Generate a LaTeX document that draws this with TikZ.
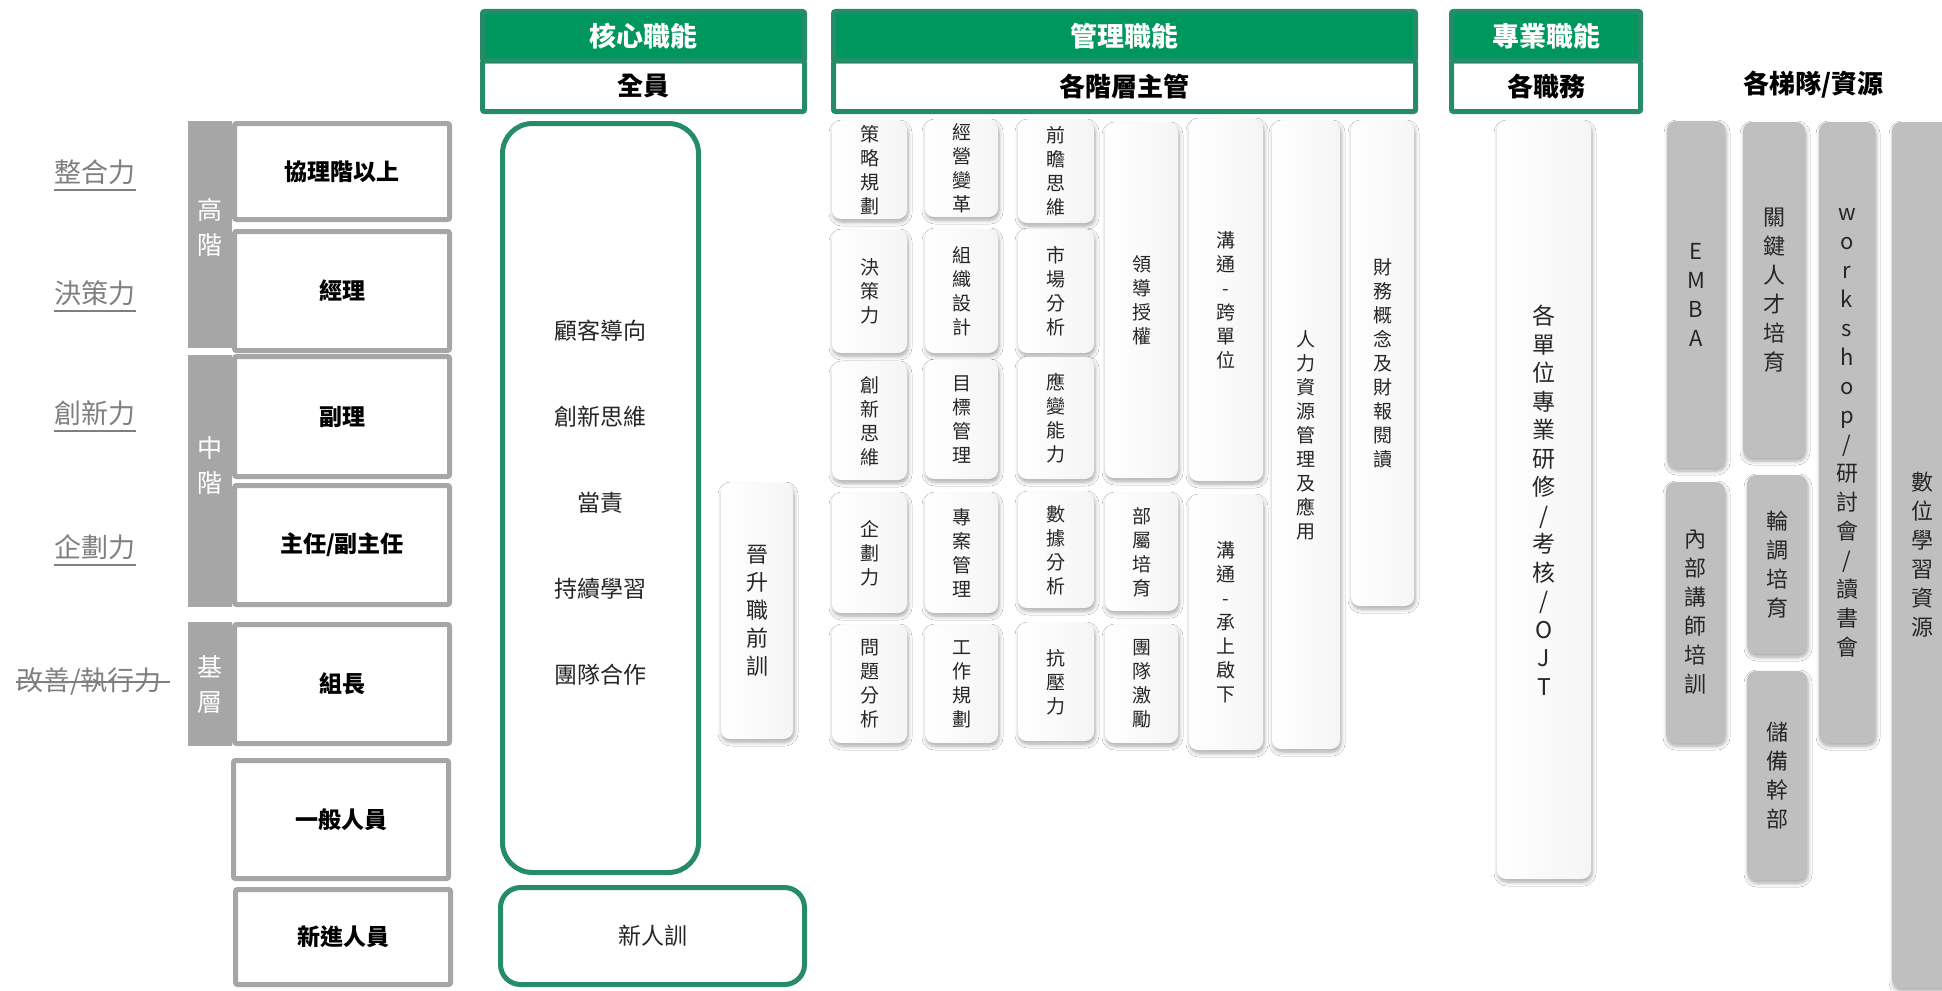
\documentclass[tikz,border=0pt]{standalone}
\usepackage{fontspec}
\setmainfont{Noto Sans CJK TC}
\usetikzlibrary{shadows.blur}
\definecolor{hdgreen}{HTML}{00975F}
\definecolor{hdline}{HTML}{268B69}
\definecolor{lvgray}{HTML}{A6A6A6}
\definecolor{rsgray}{HTML}{BFBFBF}
\definecolor{lbgray}{HTML}{7F7F7F}
\definecolor{txtdark}{HTML}{262626}

\begin{document}
\begin{tikzpicture}[x=1pt,y=-1pt,
    lbl/.style={text=lbgray, font=\fontsize{27}{30}\selectfont, inner sep=0pt},
    lbline/.style={draw=lbgray, line width=1.5pt},
    lvbar/.style={fill=lvgray, inner sep=0pt, minimum width=44pt},
    lvtxt/.style={text=white, align=center, font=\fontsize{25}{35}\selectfont},
    lvbox/.style={draw=lvgray, line width=5pt, fill=white, rounded corners=2pt, minimum width=215pt, font=\bfseries\fontsize{23}{26}\selectfont},
    hdtop/.style={draw=hdline, fill=hdgreen, line width=5pt, rounded corners=2pt, text=white, font=\bfseries\fontsize{27}{30}\selectfont, minimum height=49.5pt},
    hdsub/.style={draw=hdline, fill=white, line width=5pt, rounded corners=2pt, font=\bfseries\fontsize{26}{30}\selectfont, minimum height=50.5pt},
    corebox/.style={draw=hdline, line width=5pt, rounded corners=30pt, align=center, text=txtdark, font=\fontsize{23}{86}\selectfont},
    card/.style={rounded corners=9pt, left color=white, right color=black!4, blur shadow={shadow blur steps=6, shadow blur radius=4pt, shadow xshift=1pt, shadow yshift=-3pt, shadow opacity=35}, align=center, text=txtdark, font=\fontsize{19}{24}\selectfont, inner sep=0pt},
    rsbox/.style={rounded corners=9pt, fill=rsgray, blur shadow={shadow blur steps=6, shadow blur radius=4pt, shadow xshift=1pt, shadow yshift=-3pt, shadow opacity=35}, align=center, text=txtdark, font=\fontsize{22}{29}\selectfont, inner sep=0pt},
]
    \useasboundingbox (0,0) rectangle (1942,990);
    \fill[white] (0,0) rectangle (1942,990);

    \node[lbl] (zh) at (95,172) {整合力};
    \draw[lbline] ([yshift=-18pt]zh.west) -- ([yshift=-18pt]zh.east);
    \node[lbl] (jc) at (95,293) {決策力};
    \draw[lbline] ([yshift=-18pt]jc.west) -- ([yshift=-18pt]jc.east);
    \node[lbl] (cx) at (95,413) {創新力};
    \draw[lbline] ([yshift=-18pt]cx.west) -- ([yshift=-18pt]cx.east);
    \node[lbl] (qh) at (95,547) {企劃力};
    \draw[lbline] ([yshift=-18pt]qh.west) -- ([yshift=-18pt]qh.east);
    \node[lbl] (gs) at (89,682) {改善/執行力};
    \draw[lbline] (gs.west) -- ([xshift=8pt]gs.east);

    \node[lvbar, minimum height=227pt] (hi) at (210,234.5) {};
    \node[lvbar, minimum height=252pt] (mid) at (210,481) {};
    \node[lvbar, minimum height=124pt] (base) at (210,684) {};
    \node[lvtxt] (hit) at (210,227) {高\\階};
    \node[lvtxt] (midt) at (210,466) {中\\階};
    \node[lvtxt] (baset) at (210,684.5) {基\\層};

    \node[lvbox, minimum height=96pt] (lv1) at (342,171.5) {協理階以上};
    \node[lvbox, minimum height=119pt] (lv2) at (342,291) {經理};
    \node[lvbox, minimum height=120pt] (lv3) at (342,416.5) {副理};
    \node[lvbox, minimum height=119pt] (lv4) at (342,545) {主任/副主任};
    \node[lvbox, minimum height=119pt] (lv5) at (342,684) {組長};
    \node[lvbox, minimum height=118pt] (lv6) at (341,819.5) {一般人員};
    \node[lvbox, minimum height=95pt] (lv7) at (343,937) {新進人員};

    \node[hdsub, minimum width=322pt] (cores) at (643.5,86.25) {全員};
    \node[hdtop, minimum width=322pt] (coreh) at (643.5,36.25) {核心職能};
    \node[hdsub, minimum width=582pt] (mgrs) at (1124.5,86.25) {各階層主管};
    \node[hdtop, minimum width=582pt] (mgrh) at (1124.5,36.25) {管理職能};
    \node[hdsub, minimum width=189pt] (pros) at (1546,86.25) {各職務};
    \node[hdtop, minimum width=189pt] (proh) at (1546,36.25) {專業職能};
    \node[font=\bfseries\fontsize{26}{30}\selectfont] (rsh) at (1813,85) {各梯隊/資源};

    \node[corebox, minimum width=196pt, minimum height=749pt] (core) at (600.5,498) {};
    \node[align=center, text=txtdark, font=\fontsize{23}{86}\selectfont] (corelist) at (600,503) {顧客導向\\創新思維\\當責\\持續學習\\團隊合作};
    \node[corebox, rounded corners=20pt, minimum width=304pt, minimum height=97pt] (newc) at (652.5,936) {新人訓};
    \node[card, minimum width=72pt, minimum height=256pt, font=\fontsize{22}{28}\selectfont] (promo) at (757,611) {晉\\升\\職\\前\\訓};

    \node[card, minimum width=75pt, minimum height=98pt] (m11) at (869.5,170) {策\\略\\規\\劃};
    \node[card, minimum width=75pt, minimum height=123pt] (m12) at (869.5,291.5) {決\\策\\力};
    \node[card, minimum width=75pt, minimum height=118pt] (m13) at (869.5,421) {創\\新\\思\\維};
    \node[card, minimum width=75pt, minimum height=120pt] (m14) at (869.5,553) {企\\劃\\力};
    \node[card, minimum width=75pt, minimum height=118pt] (m15) at (869.5,684) {問\\題\\分\\析};

    \node[card, minimum width=73pt, minimum height=97pt] (m21) at (961.5,168.5) {經\\營\\變\\革};
    \node[card, minimum width=73pt, minimum height=124pt] (m22) at (961.5,291) {組\\織\\設\\計};
    \node[card, minimum width=73pt, minimum height=119pt] (m23) at (961.5,419.5) {目\\標\\管\\理};
    \node[card, minimum width=73pt, minimum height=120pt] (m24) at (961.5,553) {專\\案\\管\\理};
    \node[card, minimum width=73pt, minimum height=118pt] (m25) at (961.5,684) {工\\作\\規\\劃};

    \node[card, minimum width=76pt, minimum height=103pt] (m31) at (1056,171.5) {前\\瞻\\思\\維};
    \node[card, minimum width=76pt, minimum height=124pt] (m32) at (1056,291) {市\\場\\分\\析};
    \node[card, minimum width=76pt, minimum height=122pt] (m33) at (1056,418) {應\\變\\能\\力};
    \node[card, minimum width=76pt, minimum height=116pt] (m34) at (1056,550) {數\\據\\分\\析};
    \node[card, minimum width=76pt, minimum height=118pt] (m35) at (1056,682) {抗\\壓\\力};

    \node[card, minimum width=73pt, minimum height=355pt] (m41) at (1141.5,300.5) {領\\導\\授\\權};
    \node[card, minimum width=73pt, minimum height=118pt] (m42) at (1141.5,552) {部\\屬\\培\\育};
    \node[card, minimum width=73pt, minimum height=118pt] (m43) at (1141.5,684) {團\\隊\\激\\勵};

    \node[card, minimum width=74pt, minimum height=362pt] (m51) at (1226,300) {溝\\通\\-\\跨\\單\\位};
    \node[card, minimum width=74pt, minimum height=255pt] (m52) at (1226,622.5) {溝\\通\\-\\承\\上\\啟\\下};

    \node[card, minimum width=68pt, minimum height=628pt] (m61) at (1306,435) {人\\力\\資\\源\\管\\理\\及\\應\\用};
    \node[card, minimum width=63pt, minimum height=485pt] (m71) at (1382.5,363.5) {財\\務\\概\\念\\及\\財\\報\\閱\\讀};

    \node[card, minimum width=94pt, minimum height=758pt, font=\fontsize{23}{28.5}\selectfont] (spec) at (1544,500) {各\\單\\位\\專\\業\\研\\修\\/\\考\\核\\/\\O\\J\\T};

    \node[rsbox, minimum width=58pt, minimum height=347pt] (emba) at (1696,294.5) {E\\M\\B\\A};
    \node[rsbox, minimum width=59pt, minimum height=261pt] (inst) at (1695.5,612.5) {內\\部\\講\\師\\培\\訓};
    \node[rsbox, minimum width=62pt, minimum height=336pt] (key) at (1774,290) {關\\鍵\\人\\才\\培\\育};
    \node[rsbox, minimum width=60pt, minimum height=179pt] (rot) at (1777,564.5) {輪\\調\\培\\育};
    \node[rsbox, minimum width=60pt, minimum height=209pt] (rsv) at (1777,775.5) {儲\\備\\幹\\部};
    \node[rsbox, minimum width=56pt, minimum height=621pt] (wks) at (1847,432.5) {w\\o\\r\\k\\s\\h\\o\\p\\/\\研\\討\\會\\/\\讀\\書\\會};
    \node[rsbox, minimum width=60pt, minimum height=866pt] (elrn) at (1922,555) {數\\位\\學\\習\\資\\源};
\end{tikzpicture}
\end{document}
